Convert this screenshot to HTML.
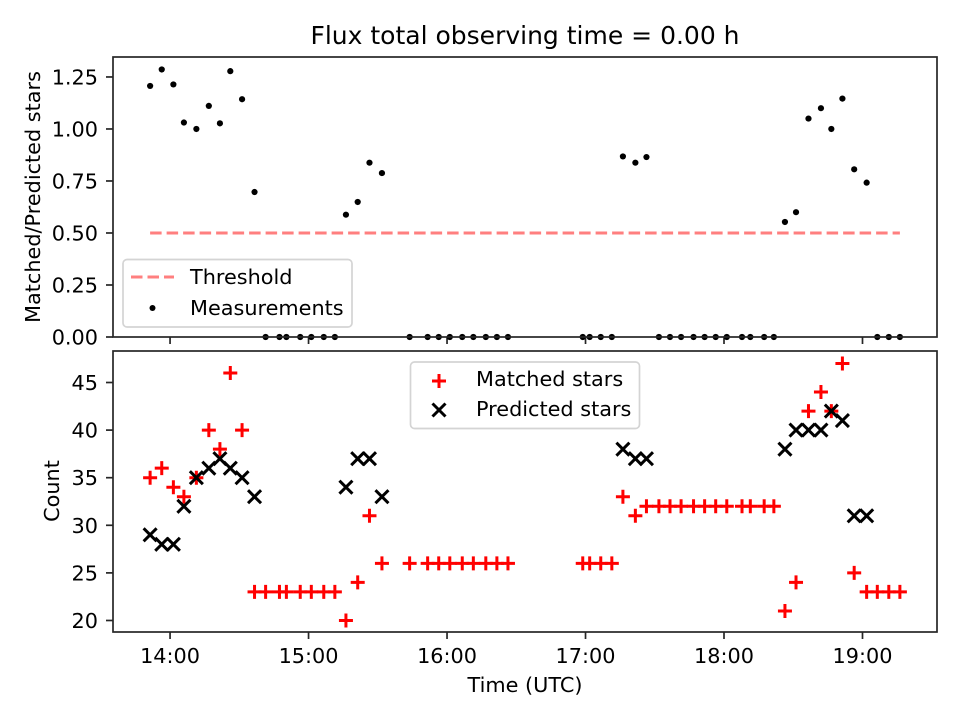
<!DOCTYPE html>
<html><head><meta charset="utf-8">
<style>
html,body{margin:0;padding:0;background:#fff;}
svg{display:block;font-family:"DejaVu Sans","Liberation Sans",sans-serif;}
</style></head>
<body>
<svg id="chart" width="960" height="720" viewBox="0 0 960 720" xmlns="http://www.w3.org/2000/svg">
<rect width="960" height="720" fill="#fff"/>
<text x="525" y="44" font-size="25" text-anchor="middle">Flux total observing time = 0.00 h</text>
<text x="0" y="0" font-size="20.8" text-anchor="middle" transform="translate(40,197) rotate(-90)">Matched/Predicted stars</text>
<text x="0" y="0" font-size="20.8" text-anchor="middle" transform="translate(59,491) rotate(-90)">Count</text>
<text x="525" y="692" font-size="20.8" text-anchor="middle">Time (UTC)</text>
<g id="topPanel"></g>
<g id="bottomPanel"></g>
</svg>
<script>
// times in decimal hours (UTC)
const times = [13.856,13.94,14.024,14.10,14.19,14.28,14.36,14.435,14.52,14.61,
 14.69,14.79,14.84,14.94,15.02,15.11,15.19,
 15.27,15.355,15.44,15.53,
 15.73,15.86,15.94,16.02,16.11,16.19,16.28,16.36,16.44,
 16.98,17.03,17.11,17.19,
 17.27,17.36,17.44,
 17.53,17.61,17.69,17.78,17.86,17.94,18.02,18.13,18.19,18.29,18.36,
 18.44,18.52,18.61,18.70,18.775,18.855,18.94,19.03,
 19.107,19.19,19.27];
const ratio = [1.207,1.286,1.214,1.031,1.0,1.111,1.027,1.278,1.143,0.697,
 0,0,0,0,0,0,0,
 0.588,0.649,0.838,0.788,
 0,0,0,0,0,0,0,0,0,
 0,0,0,0,
 0.868,0.838,0.865,
 0,0,0,0,0,0,0,0,0,0,0,
 0.553,0.6,1.05,1.1,1.0,1.146,0.806,0.742,
 0,0,0];
const matched = [35,36,34,33,35,40,38,46,40,23,
 23,23,23,23,23,23,23,
 20,24,31,26,
 26,26,26,26,26,26,26,26,26,
 26,26,26,26,
 33,31,32,
 32,32,32,32,32,32,32,32,32,32,32,
 21,24,42,44,42,47,25,23,
 23,23,23];
const predicted = [29,28,28,32,35,36,37,36,35,33,
 null,null,null,null,null,null,null,
 34,37,37,33,
 null,null,null,null,null,null,null,null,null,
 null,null,null,null,
 38,37,37,
 null,null,null,null,null,null,null,null,null,null,null,
 38,40,40,40,42,41,31,31,
 null,null,null];
const threshold = 0.5;
const xTicks = [14,15,16,17,18,19];
const xTickLabels = ["14:00","15:00","16:00","17:00","18:00","19:00"];
const topYTicks = [0,0.25,0.5,0.75,1.0,1.25];
const topYTickLabels = ["0.00","0.25","0.50","0.75","1.00","1.25"];
const botYTicks = [20,25,30,35,40,45];
const botYTickLabels = ["20","25","30","35","40","45"];

const NS="http://www.w3.org/2000/svg";
const L=113,R=937;
const xMin=13.588,xMax=19.538;
function xs(t){return L+(t-xMin)/(xMax-xMin)*(R-L);}
const TT=57,TB=337,tMin=0,tMax=1.346;
function yt(v){return TB-(v-tMin)/(tMax-tMin)*(TB-TT);}
const BT=351,BB=632,bMin=18.79,bMax=48.31;
function yb(v){return BB-(v-bMin)/(bMax-bMin)*(BB-BT);}
function mk(tag,attrs,parent){const e=document.createElementNS(NS,tag);for(const k in attrs)e.setAttribute(k,attrs[k]);parent.appendChild(e);return e;}

const topG=document.getElementById('topPanel');
const botG=document.getElementById('bottomPanel');
const AX='#262626';
const FS=20.8;

xTicks.forEach((t,i)=>{
 const x=xs(t);
 let a=mk('line',{x1:x,x2:x,y1:TB,y2:TB+7,stroke:AX,'stroke-width':1.7},topG);
 
 
 let b=mk('line',{x1:x,x2:x,y1:BB,y2:BB+7,stroke:AX,'stroke-width':1.7},botG);
 
 
 let tx=mk('text',{x:x,y:663,'font-size':FS,'text-anchor':'middle'},botG);
 tx.textContent=xTickLabels[i];
 
 
});
topYTicks.forEach((v,i)=>{
 const y=yt(v);
 let a=mk('line',{x1:L-7,x2:L,y1:y,y2:y,stroke:AX,'stroke-width':1.7},topG);
 
 
 let tx=mk('text',{x:L-15,y:y+7.5,'font-size':FS,'text-anchor':'end'},topG);
 tx.textContent=topYTickLabels[i];
 
 
});
botYTicks.forEach((v,i)=>{
 const y=yb(v);
 let a=mk('line',{x1:L-7,x2:L,y1:y,y2:y,stroke:AX,'stroke-width':1.7},botG);
 
 
 let tx=mk('text',{x:L-15,y:y+7.5,'font-size':FS,'text-anchor':'end'},botG);
 tx.textContent=botYTickLabels[i];
 
 
});

let th=mk('line',{x1:xs(times[0]),x2:xs(times[times.length-1]),y1:yt(threshold),y2:yt(threshold),stroke:'#ff7f7f','stroke-width':3,'stroke-dasharray':'11.5,5'},topG);



times.forEach((t,i)=>{
 const c=mk('circle',{cx:xs(t),cy:yt(ratio[i]),r:3.1,fill:'#000'},topG);
 
 
});

function plus(x,y,parent){
 return mk('path',{d:`M${x-7},${y}H${x+7}M${x},${y-7}V${y+7}`,stroke:'#ff0000','stroke-width':3,fill:'none'},parent);
}
function cross(x,y,parent){
 return mk('path',{d:`M${x-6.5},${y-6.5}L${x+6.5},${y+6.5}M${x-6.5},${y+6.5}L${x+6.5},${y-6.5}`,stroke:'#000','stroke-width':3,fill:'none'},parent);
}
times.forEach((t,i)=>{
 const p=plus(xs(t),yb(matched[i]),botG);
 
 
});
times.forEach((t,i)=>{
 if(predicted[i]===null)return;
 const p=cross(xs(t),yb(predicted[i]),botG);
 
 
});

let f=mk('rect',{x:L,y:TT,width:R-L,height:TB-TT,fill:'none',stroke:AX,'stroke-width':1.7},topG);


f=mk('rect',{x:L,y:BT,width:R-L,height:BB-BT,fill:'none',stroke:AX,'stroke-width':1.7},botG);



let lg=mk('g',{},topG);


mk('rect',{x:123,y:259.5,width:229,height:67.5,rx:4,fill:'#fff','fill-opacity':0.8,stroke:'#d4d4d4','stroke-width':1.7},lg);
mk('line',{x1:131,x2:174,y1:277,y2:277,stroke:'#ff7f7f','stroke-width':3,'stroke-dasharray':'11.5,5'},lg);
let t1=mk('text',{x:190,y:284,'font-size':FS},lg);t1.textContent='Threshold';


mk('circle',{cx:152.5,cy:308,r:3,fill:'#000'},lg);
let t2=mk('text',{x:190,y:315,'font-size':FS},lg);t2.textContent='Measurements';



let lb=mk('g',{},botG);


mk('rect',{x:410.5,y:362,width:229,height:66.5,rx:4,fill:'#fff','fill-opacity':0.8,stroke:'#d4d4d4','stroke-width':1.7},lb);
plus(439,381,lb);
cross(439,410,lb);
let t3=mk('text',{x:476,y:386,'font-size':FS},lb);t3.textContent='Matched stars';


let t4=mk('text',{x:476,y:416,'font-size':FS},lb);t4.textContent='Predicted stars';


</script>
</body></html>
